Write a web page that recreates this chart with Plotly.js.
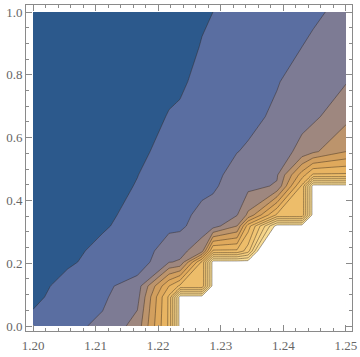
<!DOCTYPE html>
<html>
<head>
<meta charset="utf-8">
<script src="https://cdn.plot.ly/plotly-3.0.1.min.js"></script>
<style>html,body{margin:0;padding:0;background:#fff;}#chart{width:360px;height:357px;}</style>
</head>
<body>
<div id="chart"></div>
<script>
// Sample grid (non-uniform)
const xGrid = [1.2000, 1.20556, 1.21112, 1.21668, 1.22173, 1.22348, 1.22700, 1.22875, 1.23259, 1.23435, 1.23898, 1.24297, 1.24473, 1.2500];
const yGrid = [0, 0.0924, 0.1274, 0.2038, 0.2389, 0.3185, 0.3535, 0.4459, 0.4809, 0.5554, 0.6666, 0.7777, 0.8889, 1.0];

// Estimated function values (rows follow yGrid, columns follow xGrid); 20 = outside plotted range
const zRow00 = [1.2, 1.8, 2.15, 3.4, 8.2, 13.5, 20, 20, 20, 20, 20, 20, 20, 20];
const zRow01 = [0.85, 1.3, 1.86, 2.67, 8.2, 13.5, 13.5, 13.5, 20, 20, 20, 20, 20, 20];
const zRow02 = [0.8, 1.2, 1.75, 2.5, 7.0, 8.2, 8.2, 13.5, 20, 20, 20, 20, 20, 20];
const zRow03 = [0.7, 0.92, 1.2, 1.37, 2.95, 3.1, 8.2, 13.5, 13.5, 13.5, 20, 20, 20, 20];
const zRow04 = [0.67, 0.88, 1.12, 1.3, 2.6, 2.7, 3.6, 8.2, 8.2, 9.5, 20, 20, 20, 20];
const zRow05 = [0.57, 0.76, 0.95, 1.17, 1.75, 1.8, 2.5, 2.55, 4.0, 7.5, 13.5, 13.5, 13.5, 20];
const zRow06 = [0.55, 0.73, 0.9, 1.14, 1.6, 1.68, 2.3, 2.4, 2.95, 4.2, 8.2, 8.2, 13.5, 20];
const zRow07 = [0.46, 0.63, 0.78, 1.03, 1.35, 1.42, 1.7, 1.85, 2.5, 2.7, 3.1, 8.2, 13.5, 13.5];
const zRow08 = [0.44, 0.6, 0.75, 0.99, 1.3, 1.36, 1.6, 1.75, 2.35, 2.6, 2.9, 6.5, 8.2, 8.2];
const zRow09 = [0.36, 0.5, 0.65, 0.88, 1.18, 1.22, 1.42, 1.55, 1.98, 2.1, 2.5, 3.3, 3.8, 5.0];
const zRow10 = [0.27, 0.4, 0.52, 0.75, 1.03, 1.07, 1.25, 1.35, 1.7, 1.78, 2.15, 2.7, 2.8, 3.7];
const zRow11 = [0.18, 0.3, 0.42, 0.63, 0.88, 0.93, 1.13, 1.2, 1.5, 1.56, 1.95, 2.35, 2.4, 2.95];
const zRow12 = [0.1, 0.22, 0.33, 0.53, 0.75, 0.8, 1.03, 1.09, 1.35, 1.4, 1.75, 2.0, 2.15, 2.6];
const zRow13 = [0.03, 0.15, 0.25, 0.45, 0.63, 0.68, 0.93, 1.0, 1.22, 1.28, 1.55, 1.75, 1.85, 2.25];

// Contour levels and band colours (lowest band first, last = above range)
const levelStart = 1, levelEnd = 13, levelStep = 1;
const bandColors = ['#2C598C', '#5A6EA1', '#7D7B94', '#9E877F', '#BC946C', '#D29F5E', '#DFA95C',
                    '#E8B462', '#EDBD6A', '#F1C573', '#F4CD7D', '#F6D488', '#F8DC94', '#FFFFFF'];

// Axis ticks
const xTicks = [1.20, 1.21, 1.22, 1.23, 1.24, 1.25];
const xTickText = ['1.20', '1.21', '1.22', '1.23', '1.24', '1.25'];
const yTicks = [0, 0.2, 0.4, 0.6, 0.8, 1.0];
const yTickText = ['0.0', '0.2', '0.4', '0.6', '0.8', '1.0'];

const z = [zRow00, zRow01, zRow02, zRow03, zRow04, zRow05, zRow06, zRow07, zRow08, zRow09, zRow10, zRow11, zRow12, zRow13];
const nB = bandColors.length - 1;
const colorscale = bandColors.map((c, k) => [k / nB, c]);

const trace = {
  type: 'contour',
  x: xGrid, y: yGrid, z: z,
  autocontour: false,
  contours: {start: levelStart, end: levelEnd, size: levelStep, coloring: 'fill', showlines: true},
  colorscale: colorscale,
  showscale: false,
  line: {color: 'rgba(45,35,25,0.55)', width: 0.8, smoothing: 0},
  hoverinfo: 'skip'
};

const tickFont = {family: 'Liberation Serif, Times New Roman, serif', size: 13, color: '#666'};
const frameColor = '#8a8a8a';
const layout = {
  width: 360, height: 357,
  margin: {l: 26, r: 8, t: 5, b: 26, pad: 0},
  paper_bgcolor: '#fff', plot_bgcolor: '#fff',
  showlegend: false,
  xaxis: {
    range: [1.19888, 1.25096], tickmode: 'array', tickvals: xTicks, ticktext: xTickText,
    ticks: 'inside', ticklen: 6, tickwidth: 1, tickcolor: frameColor,
    showline: true, linecolor: frameColor, linewidth: 1, mirror: 'ticks',
    showgrid: false, zeroline: false, tickfont: tickFont, ticklabelstandoff: 2,
    minor: {tick0: 1.2, dtick: 0.002, ticks: 'inside', ticklen: 3, tickcolor: frameColor, showgrid: false}
  },
  yaxis: {
    range: [-0.0159, 1.0223], tickmode: 'array', tickvals: yTicks, ticktext: yTickText,
    ticks: 'inside', ticklen: 6, tickwidth: 1, tickcolor: frameColor,
    showline: true, linecolor: frameColor, linewidth: 1, mirror: 'ticks',
    showgrid: false, zeroline: false, tickfont: tickFont,
    minor: {tick0: 0, dtick: 0.05, ticks: 'inside', ticklen: 3, tickcolor: frameColor, showgrid: false}
  }
};

Plotly.newPlot('chart', [trace], layout, {staticPlot: true, displayModeBar: false});
</script>
</body>
</html>
